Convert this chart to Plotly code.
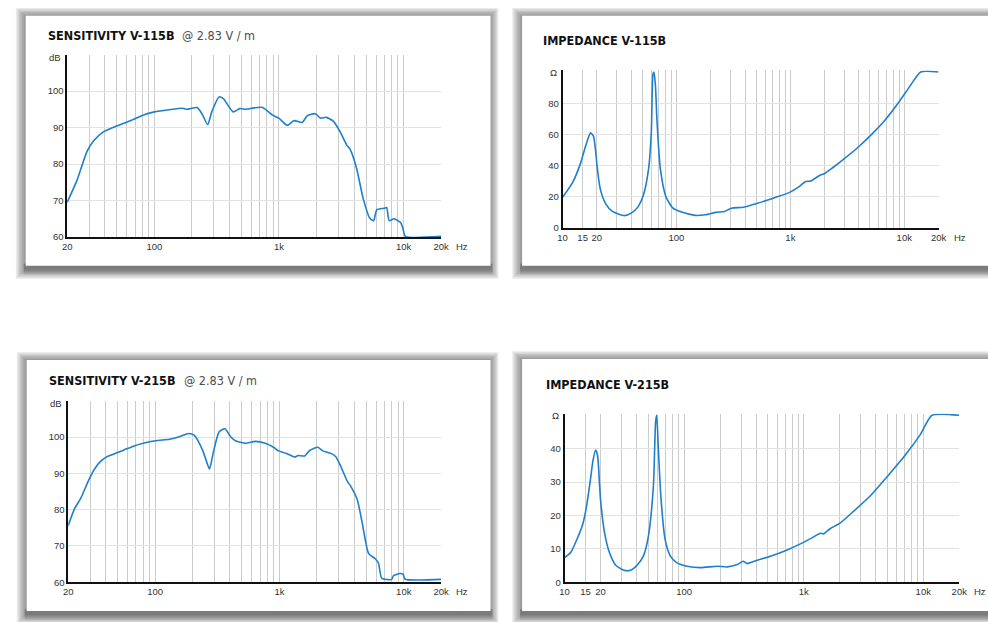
import math
import plotly.graph_objects as go

W, H = 988, 622

# ---------------- data ----------------
sens115_freq = [20, 24, 28.8, 32.5, 39, 49.7, 63.5, 80.8, 100, 131, 168, 183, 220, 241, 268, 289,
                330, 358, 429, 484, 545, 633, 739, 889, 1004, 1168, 1321, 1536, 1683, 1958, 2146,
                2396, 2739, 3097, 3496, 3715, 4194, 4734, 5343, 5740, 6100, 7000, 7300, 7660, 8380,
                9440, 9850, 10330, 20000]
sens115_db = [69.5, 75.6, 83.4, 86.3, 88.8, 90.4, 91.8, 93.4, 94.3, 94.9, 95.3, 95.0, 95.5, 93.8, 90.8, 94.3,
              98.4, 97.9, 94.3, 95.2, 95.0, 95.4, 95.5, 93.4, 92.5, 90.6, 91.9, 91.4, 93.2, 93.8, 92.6,
              92.8, 91.7, 88.8, 85.2, 84.1, 78.8, 70.6, 65.2, 64.5, 67.5, 67.9, 68.1, 64.5, 65.0,
              64.0, 62.5, 60.2, 60.2]

sens215_freq = [20, 22.4, 25.4, 28.6, 32.3, 36.4, 41.1, 49.4, 55.8, 67, 80.3, 101, 131, 157, 186, 206,
                241, 259, 274, 293, 327, 365, 405, 444, 534, 641, 769, 897, 981, 1142, 1330, 1414,
                1597, 1750, 2037, 2230, 2596, 2843, 3115, 3519, 3740, 4224, 4625, 5223, 5895, 6267,
                6658, 8000, 8245, 9317, 9900, 10200, 20000]
sens215_db = [75.6, 80.1, 83.3, 87.4, 91.0, 93.3, 94.6, 95.7, 96.4, 97.5, 98.3, 99.0, 99.4, 100.1, 101.0, 100.5,
              96.4, 93.3, 91.2, 95.5, 101.4, 102.3, 100.1, 99.0, 98.3, 98.8, 98.3, 97.2, 96.2, 95.5, 94.5, 94.9,
              94.8, 96.3, 97.2, 96.2, 95.5, 94.6, 91.9, 87.8, 86.5, 82.8, 76.5, 67.9, 66.5, 65.2,
              61.1, 60.8, 61.8, 62.4, 62.2, 60.9, 60.8]

imp115_freq = [10, 12.3, 14.3, 16.0, 17.6, 18.7, 19.7, 20, 21.4, 23.8, 27.4, 34.9, 40.1, 46.1, 51.3, 56.9,
               60.1, 62.2, 63.4, 65.3, 67.4, 72.2, 80.8, 93.2, 111, 146, 180, 222, 265, 304, 389, 513,
               728, 965, 1186, 1364, 1513, 1802, 2002, 2385, 2941, 3888, 5140, 6795, 8980, 11070, 13940, 20000]
imp115_ohm = [19.7, 29.5, 41, 53, 61, 58.8, 46.3, 41, 25.3, 15.9, 10.7, 8.0, 9.6, 13.8, 21.2, 37.9,
              61, 98.6, 100, 92, 69.3, 37.9, 20.1, 12.8, 10.3, 8.2, 8.6, 10.1, 10.7, 12.8, 13.4, 15.9,
              19.5, 22.6, 26.4, 29.9, 30.2, 33.7, 35.0, 39.0, 44.2, 51.5, 59.9, 69.3, 80.8, 90.3, 100, 100]

imp215_freq = [10, 11.3, 12.7, 14.2, 15.2, 16.3, 17.3, 18.2, 18.9, 19.6, 20, 21.6, 23.7, 26.8, 31.4, 35.6,
               40.4, 45.8, 50.3, 55.3, 57.8, 59.0, 60.8, 63.9, 69.3, 76.3, 86.6, 106, 137, 189, 229, 278,
               312, 337, 408, 527, 727, 939, 1212, 1378, 1469, 1671, 2027, 2621, 3612, 4979, 6863, 9462,
               11840, 20000]
imp215_ohm = [7.4, 9.0, 12.9, 17.4, 22.3, 29.6, 36.5, 39.6, 37.9, 29.6, 24.7, 14.9, 9.0, 5.1, 3.6, 3.6,
              5.1, 8.0, 13.9, 28.6, 48.2, 50, 40.4, 25.7, 12.9, 8.0, 5.9, 4.8, 4.4, 4.8, 4.6, 5.3,
              6.3, 5.6, 6.6, 7.8, 9.7, 11.5, 13.6, 14.7, 14.5, 16.1, 17.8, 21.3, 25.9, 31.6, 37.5, 44.3,
              50, 50]

# tick labels
sens_xticks = [20, 100, 1000, 10000, 20000]
sens_xlabels = ["20", "100", "1k", "10k", "20k"]
imp_xticks = [10, 15, 20, 100, 1000, 10000, 20000]
imp_xlabels = ["10", "15", "20", "100", "1k", "10k", "20k"]
sens_yticks = [60, 70, 80, 90, 100]
imp115_yticks = [0, 20, 40, 60, 80]
imp215_yticks = [0, 10, 20, 30, 40]
sens_grid = [30, 40, 50, 60, 70, 80, 90, 100, 200, 300, 400, 500, 600, 700, 800, 900,
             1000, 2000, 3000, 4000, 5000, 6000, 7000, 8000, 9000, 10000]
imp_grid = [15, 20] + sens_grid

titles = ["SENSITIVITY V-115B", "IMPEDANCE V-115B", "SENSITIVITY V-215B", "IMPEDANCE V-215B"]
subtitle = "@ 2.83 V / m"

# ---------------- helpers ----------------
def fx(px):
    return px / W

def fy(py):
    return 1 - py / H

LINE = "#1f7fca"
TICKFONT = dict(family="Liberation Sans, Arial, sans-serif", size=9.5, color="#333333")

fig = go.Figure()

traces = [
    (sens115_freq, sens115_db, "x", "y"),
    (imp115_freq, imp115_ohm, "x2", "y2"),
    (sens215_freq, sens215_db, "x3", "y3"),
    (imp215_freq, imp215_ohm, "x4", "y4"),
]
for xs, ys, xa, ya in traces:
    fig.add_trace(go.Scatter(x=xs, y=ys, xaxis=xa, yaxis=ya, mode="lines",
                             line=dict(color=LINE, width=1.6, shape="spline", smoothing=0.6),
                             hoverinfo="skip", showlegend=False))


def xcfg(px0, px1, lo, hi, tv, tt, grid, anchor):
    return dict(type="log", domain=[fx(px0), fx(px1)], range=[math.log10(lo), math.log10(hi)],
                tickmode="array", tickvals=tv, ticktext=tt, tickfont=TICKFONT,
                ticks="outside", ticklen=0, showgrid=False, zeroline=False,
                showline=True, linecolor="#111111", linewidth=1.5, anchor=anchor,
                minor=dict(tickmode="array", tickvals=grid, showgrid=True,
                           gridcolor="#cccccc", gridwidth=1, ticks="inside", ticklen=0),
                fixedrange=True)


def ycfg(py_top, py_bot, lo, hi, tv, anchor):
    return dict(domain=[fy(py_bot), fy(py_top)], range=[lo, hi], tickmode="array", tickvals=tv,
                tickfont=TICKFONT, ticks="outside", ticklen=0, showgrid=True, gridcolor="#e2e2e2",
                gridwidth=1, zeroline=False, showline=True, linecolor="#111111", linewidth=1.5,
                anchor=anchor, fixedrange=True)


# plot areas in pixels (left, right, top, bottom)
areas = [
    (63, 442, 55, 239),
    (565, 946, 71, 230),
    (64, 442, 404, 587),
    (567, 967, 417, 587),
]

layout = dict(
    width=W, height=H, autosize=False, margin=dict(l=0, r=0, t=0, b=0),
    paper_bgcolor="white", plot_bgcolor="rgba(0,0,0,0)", showlegend=False,
    xaxis=xcfg(areas[0][0], areas[0][1], 20, 20000, sens_xticks, sens_xlabels, sens_grid, "y"),
    yaxis=ycfg(areas[0][2], areas[0][3], 60, 110, sens_yticks, "x"),
    xaxis2=xcfg(areas[1][0], areas[1][1], 10, 20000, imp_xticks, imp_xlabels, imp_grid, "y2"),
    yaxis2=ycfg(areas[1][2], areas[1][3], 0, 101, imp115_yticks, "x2"),
    xaxis3=xcfg(areas[2][0], areas[2][1], 20, 20000, sens_xticks, sens_xlabels, sens_grid, "y3"),
    yaxis3=ycfg(areas[2][2], areas[2][3], 60, 110, sens_yticks, "x3"),
    xaxis4=xcfg(areas[3][0], areas[3][1], 10, 20000, imp_xticks, imp_xlabels, imp_grid, "y4"),
    yaxis4=ycfg(areas[3][2], areas[3][3], 0, 50.5, imp215_yticks, "x4"),
)
fig.update_layout(**layout)

# ---------------- cards with soft shadows ----------------
cards = [
    (21, 16, 492, 268),
    (524, 16, 1000, 268),
    (22, 363, 492, 616),
    (524, 362, 1000, 616),
]
shapes = []
for (x0, y0, x1, y1) in cards:
    for i in range(6):
        shapes.append(dict(type="rect", xref="paper", yref="paper", layer="below",
                           x0=fx(x0 - 10 + 1.6 * i), x1=fx(x1 + 8 - 1.4 * i),
                           y0=fy(y1 + 13 - 1.6 * i), y1=fy(y0 - 8 + 1.4 * i),
                           line=dict(width=0), fillcolor="rgba(70,70,70,0.12)"))
    # darker band along the bottom edge
    for i in range(3):
        shapes.append(dict(type="rect", xref="paper", yref="paper", layer="below",
                           x0=fx(x0 - 2), x1=fx(x1 + 2),
                           y0=fy(y1 + 9 - 2.5 * i), y1=fy(y1 - 2),
                           line=dict(width=0), fillcolor="rgba(60,60,60,0.12)"))
    shapes.append(dict(type="rect", xref="paper", yref="paper", layer="below",
                       x0=fx(x0), x1=fx(x1), y0=fy(y1), y1=fy(y0),
                       line=dict(width=0), fillcolor="white"))
fig.update_layout(shapes=shapes)

# ---------------- titles and unit labels ----------------
TITLEFONT = dict(family="DejaVu Sans Condensed, Liberation Sans Narrow, sans-serif", size=12.5,
                 color="#111111", weight=900)
SUBFONT = dict(family="DejaVu Sans Condensed, Liberation Sans, sans-serif", size=12.5, color="#4d4d4d")
title_pos = [(42, 36), (543, 41), (43, 384), (546, 388)]
sub_pos = [(177, 36), None, (179, 384), None]
ann = []
for i, t in enumerate(titles):
    px, py = title_pos[i]
    ann.append(dict(text=t, x=fx(px), y=fy(py), xref="paper", yref="paper",
                    xanchor="left", yanchor="middle", showarrow=False, font=TITLEFONT))
    if sub_pos[i]:
        sx, sy = sub_pos[i]
        ann.append(dict(text=subtitle, x=fx(sx), y=fy(sy), xref="paper", yref="paper",
                        xanchor="left", yanchor="middle", showarrow=False, font=SUBFONT))

units = [("dB", "x", "y"), ("Ω", "x2", "y2"), ("dB", "x3", "y3"), ("Ω", "x4", "y4")]
for u, xa, ya in units:
    ann.append(dict(text=u, xref=xa + " domain", yref=ya + " domain", x=0, y=1,
                    xanchor="right", yanchor="middle", xshift=-4, yshift=-3 if u == "dB" else -2,
                    showarrow=False, font=TICKFONT))
    ann.append(dict(text="Hz", xref=xa + " domain", yref=ya + " domain", x=1, y=0,
                    xanchor="left", yanchor="middle", xshift=13, yshift=-9,
                    showarrow=False, font=TICKFONT))
fig.update_layout(annotations=ann)

fig.write_html("out.html", config={"displayModeBar": False},
               post_script="document.body.style.margin='0';document.body.style.overflow='hidden';")
